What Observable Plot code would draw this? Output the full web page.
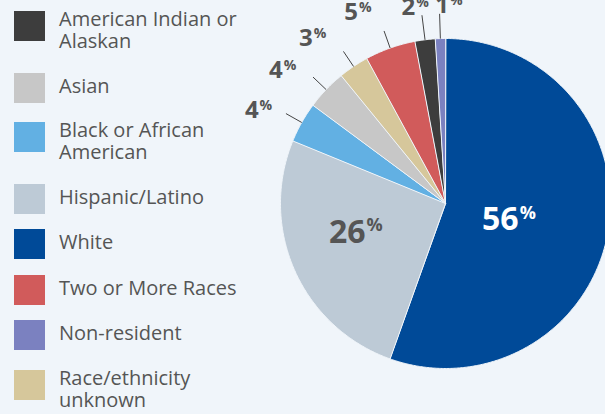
<!DOCTYPE html>
<html>
<head>
<meta charset="utf-8">
<script src="https://cdn.jsdelivr.net/npm/d3@7"></script>
<script src="https://cdn.jsdelivr.net/npm/@observablehq/plot@0.6"></script>
<style>
  html, body { margin: 0; padding: 0; background: #f0f5fa; }
  #wrap { position: relative; width: 605px; height: 414px; overflow: hidden; font-family: "Open Sans", sans-serif; }
  #chart { position: absolute; left: 0; top: 0; }
  .leg-row { position: absolute; left: 14px; }
  .leg-sw { position: absolute; left: 0; top: 0; width: 31px; height: 30px; }
  .leg-tx { position: absolute; left: 45px; white-space: pre; font-size: 20px; line-height: 22px; color: #555; }
</style>
</head>
<body>
<div id="wrap"><div id="chart"></div><div id="legend"></div></div>
<script>
// ---- data ----
const sliceCategories = ["White", "Hispanic/Latino", "Black or African American", "Asian",
  "Race/ethnicity unknown", "Two or More Races", "American Indian or Alaskan", "Non-resident"];
const sliceValues = [56, 26, 4, 4, 3, 5, 2, 1];

const legendCategories = ["American Indian or Alaskan", "Asian", "Black or African American",
  "Hispanic/Latino", "White", "Two or More Races", "Non-resident", "Race/ethnicity unknown"];
const legendLabels = ["American Indian or\nAlaskan", "Asian", "Black or African\nAmerican",
  "Hispanic/Latino", "White", "Two or More Races", "Non-resident", "Race/ethnicity\nunknown"];
const legendColors = ["#3d3d3d", "#c7c7c7", "#62b0e3", "#bdcad6", "#004a98", "#d15b5b", "#7b81c0", "#d6c79b"];

// ---- layout (not data) ----
const R = 165, cx = 445, cy = 203;
const bg = "#f0f5fa";
const labelRadius = [0.46, 0.51, 1.26, 1.27, 1.28, 1.27, 1.2, 1.2];
const labelShiftDeg = [2.6, 3.9, -2.8, -4.2, -4.7, -4.8, -1.4, 3.1];
const legendTops = [11, 73, 122, 184, 229, 275, 320, 370];

const rows = sliceCategories.map((c, i) => ({category: c, value: sliceValues[i], i}));
const arcs = d3.pie().sort(null).value(d => d.value)(rows);

// wedge outlines in unit-circle coordinates
const wedgePts = [];
arcs.forEach(a => {
  const c = a.data.category;
  wedgePts.push({category: c, x: 0, y: 0});
  const n = Math.max(2, Math.ceil((a.endAngle - a.startAngle) / (Math.PI / 360)));
  for (let k = 0; k <= n; k++) {
    const t = a.startAngle + (a.endAngle - a.startAngle) * k / n;
    wedgePts.push({category: c, x: Math.sin(t), y: Math.cos(t)});
  }
});

const labels = arcs.map(a => {
  const i = a.data.i;
  const mid = (a.startAngle + a.endAngle) / 2;
  const t = mid + labelShiftDeg[i] * Math.PI / 180;
  const r = labelRadius[i];
  const lr = i >= 6 ? 1.15 : 1.11;
  return {
    i, text: String(a.data.value), inside: i < 2,
    x: r * Math.sin(t), y: r * Math.cos(t),
    lx1: Math.sin(mid), ly1: Math.cos(mid),
    lx2: lr * Math.sin(mid), ly2: lr * Math.cos(mid)
  };
});
const outer = labels.filter(d => !d.inside);
const white = labels.filter(d => d.i === 0);
const hisp = labels.filter(d => d.i === 1);

const plot = Plot.plot({
  width: 605, height: 414, margin: 0,
  style: {background: bg, overflow: "visible", fontFamily: "Open Sans, sans-serif"},
  x: {domain: [-1, 1], range: [cx - R, cx + R], axis: null},
  y: {domain: [-1, 1], range: [cy + R, cy - R], axis: null},
  color: {type: "ordinal", domain: legendCategories, range: legendColors},
  marks: [
    Plot.line(wedgePts, {x: "x", y: "y", z: "category", fill: "category", stroke: bg, strokeWidth: 1, curve: "linear-closed"}),
    Plot.link(outer, {x1: "lx1", y1: "ly1", x2: "lx2", y2: "ly2", stroke: "#444", strokeWidth: 1}),
    Plot.text(outer, {x: "x", y: "y", text: "text", textAnchor: "end", dx: -1, fontSize: 24, fontWeight: "bold", fill: "#555"}),
    Plot.text(outer, {x: "x", y: "y", text: () => "%", textAnchor: "start", dx: 0, dy: -5, fontSize: 14, fontWeight: "bold", fill: "#555"}),
    Plot.text(white, {x: "x", y: "y", text: "text", textAnchor: "end", dx: -1, fontSize: 32, fontWeight: "bold", fill: "#ffffff"}),
    Plot.text(white, {x: "x", y: "y", text: () => "%", textAnchor: "start", dx: 0, dy: -7, fontSize: 18, fontWeight: "bold", fill: "#ffffff"}),
    Plot.text(hisp, {x: "x", y: "y", text: "text", textAnchor: "end", dx: -1, fontSize: 32, fontWeight: "bold", fill: "#555"}),
    Plot.text(hisp, {x: "x", y: "y", text: () => "%", textAnchor: "start", dx: 0, dy: -7, fontSize: 18, fontWeight: "bold", fill: "#555"})
  ]
});
document.getElementById("chart").appendChild(plot);

// legend
const leg = document.getElementById("legend");
legendCategories.forEach((c, i) => {
  const row = document.createElement("div");
  row.className = "leg-row";
  row.style.top = legendTops[i] + "px";
  const sw = document.createElement("div");
  sw.className = "leg-sw";
  sw.style.background = legendColors[i];
  const tx = document.createElement("div");
  tx.className = "leg-tx";
  tx.textContent = legendLabels[i];
  const twoLine = legendLabels[i].includes("\n");
  tx.style.top = (twoLine ? -3 : 2) + "px";
  row.appendChild(sw);
  row.appendChild(tx);
  leg.appendChild(row);
});
</script>
</body>
</html>
